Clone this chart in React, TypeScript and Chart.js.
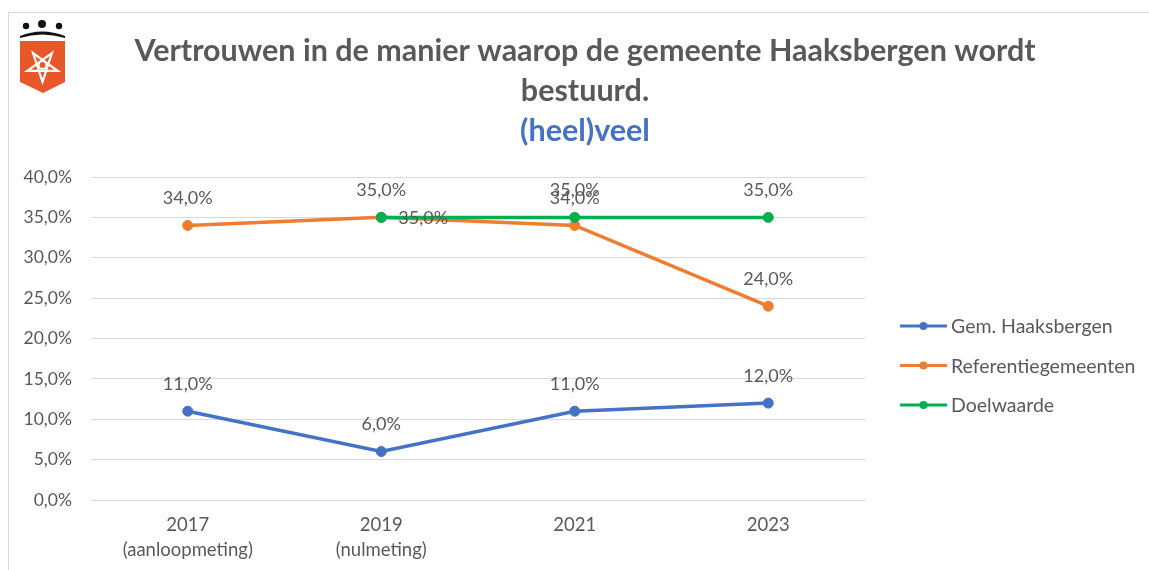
import React, { useEffect, useRef } from "react";
import { Chart, registerables } from "chart.js";

Chart.register(...registerables);

// ---- data ----
const categories: string[][] = [["2017", "(aanloopmeting)"], ["2019", "(nulmeting)"], ["2021"], ["2023"]];
const haaksbergen: (number | null)[] = [11, 6, 11, 12];
const referentie: (number | null)[] = [34, 35, 34, 24];
const doelwaarde: (number | null)[] = [null, 35, 35, 35];
const seriesNames: string[] = ["Gem. Haaksbergen", "Referentiegemeenten", "Doelwaarde"];
const titleLines: string[] = ["Vertrouwen in de manier waarop de gemeente Haaksbergen wordt", "bestuurd."];
const subtitleText = "(heel)veel";
const yMin = 0;
const yMax = 40;
const yStep = 5;

const COLORS = ["#4472C4", "#ED7D31", "#00B050"];
const TEXT = "#595959";
const GRID = "#D9D9D9";
const FONT = "Lato, 'Open Sans', sans-serif";

const fmt = (v: number) => v.toFixed(1).replace(".", ",") + "%";

// label placement per dataset/point ('top' by default)
const labelPlacement: Record<string, string> = { "1-1": "right" };

const framePlugin = {
  id: "frame",
  beforeDraw(chart: any) {
    const ctx = chart.ctx;
    ctx.save();
    ctx.fillStyle = "#ffffff";
    ctx.fillRect(0, 0, chart.width, chart.height);
    ctx.strokeStyle = GRID;
    ctx.lineWidth = 1;
    ctx.beginPath();
    ctx.moveTo(8.5, chart.height);
    ctx.lineTo(8.5, 12.5);
    ctx.lineTo(chart.width, 12.5);
    ctx.stroke();
    ctx.restore();
  },
};

const logoPlugin = {
  id: "logo",
  afterDraw(chart: any) {
    const ctx = chart.ctx;
    ctx.save();
    ctx.fillStyle = "#111";
    [[26, 26, 3.2], [42, 24, 4], [59, 26, 3.2]].forEach(([x, y, r]) => {
      ctx.beginPath();
      ctx.arc(x, y, r, 0, Math.PI * 2);
      ctx.fill();
    });
    ctx.beginPath();
    ctx.moveTo(20, 36);
    ctx.quadraticCurveTo(42, 27, 65, 36);
    ctx.lineTo(65, 38);
    ctx.quadraticCurveTo(42, 31, 20, 38);
    ctx.closePath();
    ctx.fill();
    ctx.fillStyle = "#E8562A";
    ctx.beginPath();
    ctx.moveTo(20, 41);
    ctx.lineTo(65, 41);
    ctx.lineTo(65, 82);
    ctx.quadraticCurveTo(55, 87, 43, 93);
    ctx.quadraticCurveTo(31, 87, 20, 82);
    ctx.closePath();
    ctx.fill();
    ctx.strokeStyle = "#fff";
    ctx.lineWidth = 2.2;
    ctx.lineJoin = "miter";
    const cx = 42.5, cy = 66, R = 16;
    ctx.beginPath();
    for (let i = 0; i <= 5; i++) {
      const k = (i * 2) % 5;
      const a = Math.PI / 2 + (k * 2 * Math.PI) / 5;
      const x = cx + R * Math.cos(a);
      const y = cy + R * Math.sin(a);
      if (i === 0) ctx.moveTo(x, y);
      else ctx.lineTo(x, y);
    }
    ctx.closePath();
    ctx.stroke();
    ctx.beginPath();
    ctx.arc(cx, cy - 1, 4, 0, Math.PI * 2);
    ctx.stroke();
    ctx.restore();
  },
};

const titlePlugin = {
  id: "customTitle",
  afterDraw(chart: any) {
    const ctx = chart.ctx;
    ctx.save();
    ctx.textAlign = "center";
    ctx.textBaseline = "middle";
    ctx.fillStyle = TEXT;
    ctx.font = `bold 30.5px ${FONT}`;
    const cx = 585;
    titleLines.forEach((t, i) => ctx.fillText(t, cx, 51 + i * 40));
    ctx.fillStyle = COLORS[0];
    ctx.fillText(subtitleText, cx, 131);
    ctx.restore();
  },
};

const legendPlugin = {
  id: "customLegend",
  afterDraw(chart: any) {
    const ctx = chart.ctx;
    ctx.save();
    ctx.font = `19.5px ${FONT}`;
    ctx.textBaseline = "middle";
    ctx.textAlign = "left";
    seriesNames.forEach((name, i) => {
      const y = 326 + i * 39.5;
      ctx.strokeStyle = COLORS[i];
      ctx.lineWidth = 3;
      ctx.beginPath();
      ctx.moveTo(900, y);
      ctx.lineTo(947, y);
      ctx.stroke();
      ctx.fillStyle = COLORS[i];
      ctx.beginPath();
      ctx.arc(923.5, y, 4, 0, Math.PI * 2);
      ctx.fill();
      ctx.fillStyle = TEXT;
      ctx.fillText(name, 951, y + 1);
    });
    ctx.restore();
  },
};

const labelsPlugin = {
  id: "dataLabels",
  afterDatasetsDraw(chart: any) {
    const ctx = chart.ctx;
    ctx.save();
    ctx.font = `18px ${FONT}`;
    ctx.fillStyle = TEXT;
    chart.data.datasets.forEach((ds: any, di: number) => {
      const meta = chart.getDatasetMeta(di);
      meta.data.forEach((pt: any, pi: number) => {
        const v = ds.data[pi];
        if (v === null || v === undefined) return;
        const place = labelPlacement[`${di}-${pi}`] || "top";
        if (place === "right") {
          ctx.textAlign = "left";
          ctx.textBaseline = "middle";
          ctx.fillText(fmt(v), pt.x + 17, pt.y + 1);
        } else {
          ctx.textAlign = "center";
          ctx.textBaseline = "middle";
          ctx.fillText(fmt(v), pt.x, pt.y - 27);
        }
      });
    });
    ctx.restore();
  },
};

export default function App() {
  const ref = useRef<HTMLCanvasElement | null>(null);

  useEffect(() => {
    document.body.style.margin = "0";
    document.body.style.overflow = "hidden";
    if (!ref.current) return;
    const mk = (i: number, data: (number | null)[], order: number) => ({
      label: seriesNames[i],
      data,
      borderColor: COLORS[i],
      backgroundColor: COLORS[i],
      pointBackgroundColor: COLORS[i],
      pointBorderColor: COLORS[i],
      borderWidth: 3.5,
      pointRadius: 5,
      pointBorderWidth: 1,
      pointHoverRadius: 5,
      tension: 0,
      spanGaps: false,
      order,
    });
    const chart = new Chart(ref.current, {
      type: "line",
      data: {
        labels: categories,
        datasets: [mk(0, haaksbergen, 2), mk(1, referentie, 1), mk(2, doelwaarde, 0)],
      },
      options: {
        animation: false,
        responsive: false,
        devicePixelRatio: 1,
        layout: { padding: { top: 177, right: 284, left: 0, bottom: 0 } },
        plugins: {
          legend: { display: false },
          title: { display: false },
          tooltip: { enabled: false },
        },
        scales: {
          x: {
            offset: true,
            grid: { display: false, drawTicks: false },
            border: { display: false },
            ticks: {
              color: TEXT,
              padding: 13,
              maxRotation: 0,
              autoSkip: false,
              font: { family: FONT, size: 18.5, lineHeight: 1.35 },
            },
            afterFit(scale: any) {
              scale.height = 70;
            },
          },
          y: {
            min: yMin,
            max: yMax,
            grid: { color: GRID, lineWidth: 1, drawTicks: false },
            border: { display: false },
            ticks: {
              stepSize: yStep,
              color: TEXT,
              padding: 19,
              font: { family: FONT, size: 17.5 },
              callback: (v: any) => fmt(Number(v)),
            },
            afterFit(scale: any) {
              scale.width = 91;
            },
          },
        },
      },
      plugins: [framePlugin, logoPlugin, titlePlugin, legendPlugin, labelsPlugin],
    } as any);
    return () => chart.destroy();
  }, []);

  return (
    <div style={{ width: 1149, height: 570, overflow: "hidden" }}>
      <canvas ref={ref} width={1149} height={570} style={{ display: "block" }} />
    </div>
  );
}
